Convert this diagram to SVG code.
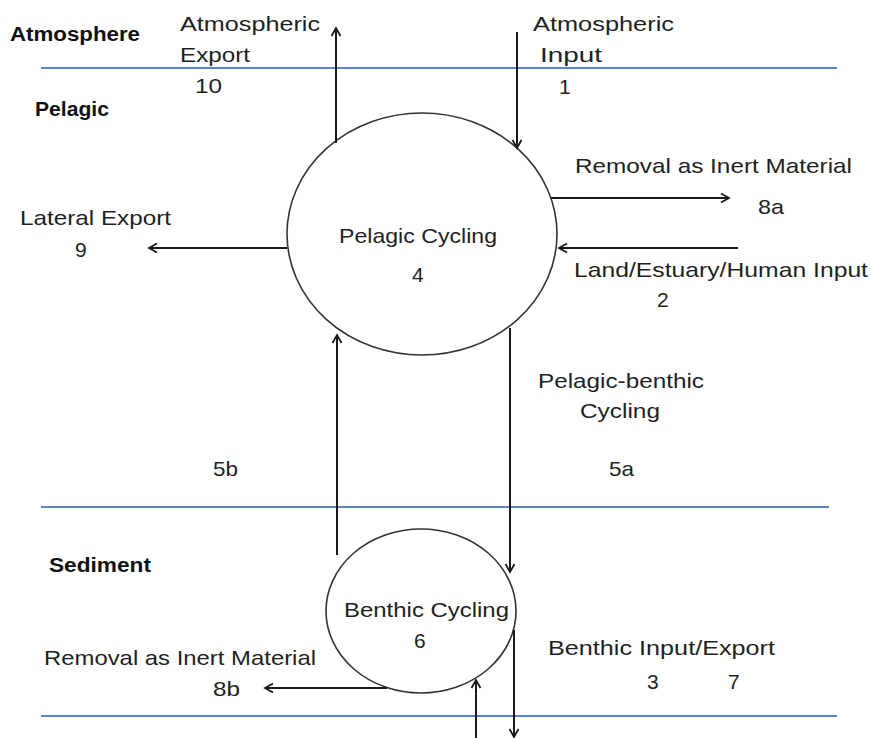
<svg xmlns="http://www.w3.org/2000/svg" width="871" height="738" viewBox="0 0 871 738">
<style>
  text { font-family: "Liberation Sans", Arial, sans-serif; font-size: 21px; fill: #1f1f1f; }
  .b { font-weight: bold; font-size: 20px; fill: #111; }
  .layer { stroke: #5b86c4; stroke-width: 2; }
  .node { fill: #fff; stroke: #333; stroke-width: 1.6; }
  .flow { stroke: #1a1a1a; stroke-width: 2; fill: none; marker-end: url(#arr); }
</style>
<defs>
  <marker id="arr" markerWidth="12" markerHeight="12" refX="9" refY="5" orient="auto" markerUnits="userSpaceOnUse">
    <path d="M1,0.5 L9,5 L1,9.5" fill="none" stroke="#1a1a1a" stroke-width="1.8"/>
  </marker>
</defs>
<rect width="871" height="738" fill="#fff"/>

<g id="layers">
  <line class="layer" x1="41" y1="68" x2="837" y2="68"/>
  <line class="layer" x1="41" y1="507" x2="829" y2="507"/>
  <line class="layer" x1="41" y1="716" x2="837" y2="716"/>
  <text class="b" x="10" y="41" textLength="130" lengthAdjust="spacingAndGlyphs">Atmosphere</text>
  <text class="b" x="35" y="116" textLength="74" lengthAdjust="spacingAndGlyphs">Pelagic</text>
  <text class="b" x="49" y="572" textLength="102" lengthAdjust="spacingAndGlyphs">Sediment</text>
</g>

<g id="pelagic">
  <ellipse class="node" cx="422" cy="234" rx="135" ry="121"/>
  <text x="339" y="243" textLength="158" lengthAdjust="spacingAndGlyphs">Pelagic Cycling</text>
  <text x="412" y="282">4</text>
</g>

<g id="benthic">
  <ellipse class="node" cx="421" cy="611" rx="95" ry="82"/>
  <text x="344" y="617" textLength="165" lengthAdjust="spacingAndGlyphs">Benthic Cycling</text>
  <text x="414" y="648">6</text>
</g>

<g id="connectors">
  <line class="flow" x1="336" y1="143" x2="336" y2="28"/>
  <line class="flow" x1="517" y1="32" x2="517" y2="148"/>
  <line class="flow" x1="551" y1="198" x2="729" y2="198"/>
  <line class="flow" x1="738" y1="248" x2="559" y2="248"/>
  <line class="flow" x1="287" y1="248" x2="149" y2="248"/>
  <line class="flow" x1="337" y1="555" x2="337" y2="335"/>
  <line class="flow" x1="510" y1="328" x2="510" y2="572"/>
  <line class="flow" x1="387" y1="688" x2="265" y2="688"/>
  <line class="flow" x1="476" y1="738" x2="476" y2="680"/>
  <line class="flow" x1="514" y1="630" x2="514" y2="737"/>
</g>

<g id="labels">
  <text x="180" y="31" textLength="140" lengthAdjust="spacingAndGlyphs">Atmospheric</text>
  <text x="180" y="62" textLength="70" lengthAdjust="spacingAndGlyphs">Export</text>
  <text x="195" y="93" textLength="27" lengthAdjust="spacingAndGlyphs">10</text>

  <text x="533" y="31" textLength="141" lengthAdjust="spacingAndGlyphs">Atmospheric</text>
  <text x="540" y="62" textLength="62" lengthAdjust="spacingAndGlyphs">Input</text>
  <text x="559" y="94">1</text>

  <text x="575" y="173" textLength="277" lengthAdjust="spacingAndGlyphs">Removal as Inert Material</text>
  <text x="758" y="214" textLength="26" lengthAdjust="spacingAndGlyphs">8a</text>

  <text x="574" y="277" textLength="294" lengthAdjust="spacingAndGlyphs">Land/Estuary/Human Input</text>
  <text x="657" y="307">2</text>

  <text x="20" y="225" textLength="151" lengthAdjust="spacingAndGlyphs">Lateral Export</text>
  <text x="75" y="257">9</text>

  <text x="538" y="388" textLength="166" lengthAdjust="spacingAndGlyphs">Pelagic-benthic</text>
  <text x="580" y="418" textLength="80" lengthAdjust="spacingAndGlyphs">Cycling</text>

  <text x="213" y="476" textLength="25" lengthAdjust="spacingAndGlyphs">5b</text>
  <text x="609" y="476" textLength="25" lengthAdjust="spacingAndGlyphs">5a</text>

  <text x="44" y="665" textLength="272" lengthAdjust="spacingAndGlyphs">Removal as Inert Material</text>
  <text x="213" y="696" textLength="27" lengthAdjust="spacingAndGlyphs">8b</text>

  <text x="548" y="655" textLength="227" lengthAdjust="spacingAndGlyphs">Benthic Input/Export</text>
  <text x="647" y="689">3</text>
  <text x="728" y="689">7</text>
</g>
</svg>
